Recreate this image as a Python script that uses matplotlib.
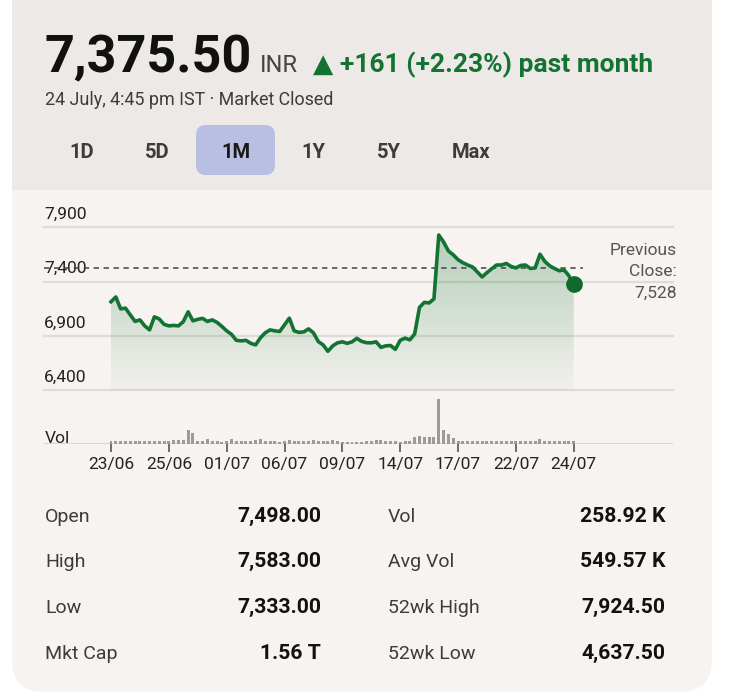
import numpy as np
import matplotlib
matplotlib.use("Agg")
import matplotlib.pyplot as plt
from matplotlib.patches import FancyBboxPatch, Rectangle

plt.rcParams['font.family'] = ['Roboto', 'DejaVu Sans']

# --- data --------------------------------------------------------------
price = [7215, 7259, 7149, 7156, 7094, 7034, 7048, 6993, 6956, 7076,
         7057, 7007, 6993, 6997, 6993, 7032, 7122, 7039, 7053, 7062,
         7034, 7048, 7025, 6988, 6947, 6915, 6860, 6855, 6860, 6832,
         6818, 6883, 6929, 6956, 6947, 6941, 7002, 7064, 6947, 6933,
         6938, 6965, 6929, 6849, 6818, 6759, 6809, 6837, 6846, 6832,
         6846, 6878, 6850, 6838, 6837, 6846, 6795, 6809, 6812, 6777,
         6860, 6880, 6864, 6919, 7163, 7209, 7204, 7241, 7829, 7765,
         7682, 7647, 7602, 7574, 7553, 7535, 7489, 7443, 7483, 7519,
         7553, 7553, 7567, 7540, 7526, 7549, 7553, 7521, 7526, 7652,
         7586, 7546, 7521, 7500, 7508, 7454, 7375.5]
volume_k = [155, 155, 155, 155, 155, 190, 190, 190, 190, 155,
            155, 155, 190, 230, 230, 230, 800, 665, 190, 190,
            270, 155, 155, 115, 155, 285, 190, 155, 155, 190,
            230, 270, 190, 190, 155, 115, 190, 230, 190, 155,
            155, 190, 230, 155, 155, 190, 230, 155, 100, 115,
            115, 115, 115, 155, 155, 230, 230, 190, 155, 155,
            115, 155, 155, 415, 475, 415, 415, 415, 2620, 815,
            570, 340, 190, 190, 190, 190, 190, 190, 155, 190,
            190, 155, 190, 190, 155, 190, 190, 155, 190, 285,
            190, 190, 155, 190, 190, 155, 190]
date_labels = ["23/06", "25/06", "01/07", "06/07", "09/07", "14/07", "17/07", "22/07", "24/07"]
date_ticks = [0, 12, 24, 36, 48, 60, 72, 84, 96]
y_grid = [6400, 6900, 7400, 7900]
prev_close = 7528

ranges = ["1D", "5D", "1M", "1Y", "5Y", "Max"]
stats_left = [("Open", "7,498.00"), ("High", "7,583.00"), ("Low", "7,333.00"), ("Mkt Cap", "1.56 T")]
stats_right = [("Vol", "258.92 K"), ("Avg Vol", "549.57 K"), ("52wk High", "7,924.50"), ("52wk Low", "4,637.50")]

GREEN = '#137333'
W, H = 730, 700

fig = plt.figure(figsize=(W / 100, H / 100), dpi=100)
fig.patch.set_facecolor('white')

# background axes in pixel units
bg = fig.add_axes([0, 0, 1, 1])
bg.set_xlim(0, W)
bg.set_ylim(H, 0)
bg.axis('off')

card = FancyBboxPatch((12, -40), 700, 732, boxstyle="round,pad=0,rounding_size=32",
                      fc='#f6f3f0', ec='none')
bg.add_patch(card)
head = Rectangle((0, -50), W, 240, fc='#ede9e6', ec='none')
bg.add_patch(head)
head.set_clip_path(card)

# header texts
bg.text(45, 72, "7,375.50", fontsize=37.5, fontweight='bold', color='#111111', va='baseline')
bg.text(260, 72, "INR", fontsize=17, color='#444444', va='baseline')
bg.text(313, 72, "\u25b2 +161 (+2.23%) past month", fontsize=19, fontweight='bold',
        color=GREEN, va='baseline', family=['Roboto', 'DejaVu Sans'])
bg.text(45, 105, "24 July, 4:45 pm IST \u00b7 Market Closed", fontsize=12.9,
        color='#3c3c3c', va='baseline')

btn_x = [82, 157, 236, 313, 389, 471]
for lab, cx in zip(ranges, btn_x):
    if lab == "1M":
        bg.add_patch(FancyBboxPatch((196, 125), 79, 50, boxstyle="round,pad=0,rounding_size=10",
                                    fc='#b9bfe2', ec='none'))
    bg.text(cx, 158.5, lab, fontsize=14.5, fontweight='bold', ha='center', va='baseline',
            color='#1a1a1a' if lab == "1M" else '#3c3c3c')

# --- price chart --------------------------------------------------------
X0, X1 = 44, 673          # gridline extent in px
T0, DT = 111, 4.82        # px of first point, px per step
xlo = (X0 - T0) / DT
xhi = (X1 - T0) / DT
t = np.arange(len(price))

ax = fig.add_axes([X0 / W, 1 - 390.3 / H, (X1 - X0) / W, (390.3 - 227.3) / H])
ax.set_facecolor('none')
ax.set_xlim(xlo, xhi)
ax.set_ylim(6400, 7900)
ax.axis('off')

for g in y_grid:
    ax.axhline(g, color='#dfdbd8', lw=1.6, clip_on=False, zorder=1)
    ax.annotate(f"{g:,}", xy=(0, g), xycoords=('axes fraction', 'data'),
                xytext=(0, 4), textcoords='offset points', ha='left', va='bottom',
                fontsize=12.5, color='#222222', annotation_clip=False)

# gradient fill under the line
grad = np.zeros((256, 1, 4))
rgb = matplotlib.colors.to_rgb(GREEN)
grad[:, 0, :3] = rgb
grad[:, 0, 3] = np.linspace(0.02, 0.30, 256)
im = ax.imshow(grad, extent=[t[0], t[-1], 6400, 7900], origin='lower', aspect='auto', zorder=2)
poly = ax.fill_between(t, price, 6400, facecolor='none', edgecolor='none')
im.set_clip_path(poly.get_paths()[0], ax.transData)

ax.axhline(prev_close, xmin=0, xmax=(583 - X0) / (X1 - X0), color='#444444', lw=1.1,
           ls=(0, (3.5, 3)), zorder=4)
ax.plot(t, price, color=GREEN, lw=2.6, zorder=5, solid_joinstyle='round')
ax.plot(t[-1], price[-1], 'o', ms=11, color='#0e6b2b', zorder=6, clip_on=False)

bg.text(677, 255, "Previous", fontsize=12.5, color='#555555', ha='right', va='baseline')
bg.text(677, 276, "Close:", fontsize=12.5, color='#555555', ha='right', va='baseline')
bg.text(677, 298, f"{prev_close:,}", fontsize=12.5, color='#555555', ha='right', va='baseline')

# --- volume -------------------------------------------------------------
vax = fig.add_axes([X0 / W, 1 - 444 / H, (X1 - X0) / W, (444 - 399) / H])
vax.set_facecolor('none')
vax.set_xlim(xlo, xhi)
vax.set_ylim(0, max(volume_k))
vax.bar(t, volume_k, width=0.62, color='#9b9b9b', zorder=2)
vax.axhline(0, color='#dcd8d5', lw=1.6, zorder=1)
for s in vax.spines.values():
    s.set_visible(False)
vax.set_yticks([])
vax.set_xticks(date_ticks)
vax.set_xticklabels(date_labels, fontsize=12.5, color='#222222')
vax.tick_params(axis='x', length=6, width=1.2, color='#555555', pad=3.5)
bg.text(45, 443, "Vol", fontsize=12.5, color='#222222', va='baseline')

# --- stats table --------------------------------------------------------
row_y = [522, 567, 613, 659]
for (lab, val), (lab2, val2), y in zip(stats_left, stats_right, row_y):
    bg.text(45, y, lab, fontsize=14, color='#3c3c3c', va='baseline')
    bg.text(321, y, val, fontsize=15.2, fontweight='bold', color='#111111', ha='right', va='baseline')
    bg.text(388, y, lab2, fontsize=14, color='#3c3c3c', va='baseline')
    bg.text(665, y, val2, fontsize=15.2, fontweight='bold', color='#111111', ha='right', va='baseline')

fig.savefig("out.png", dpi=100)
